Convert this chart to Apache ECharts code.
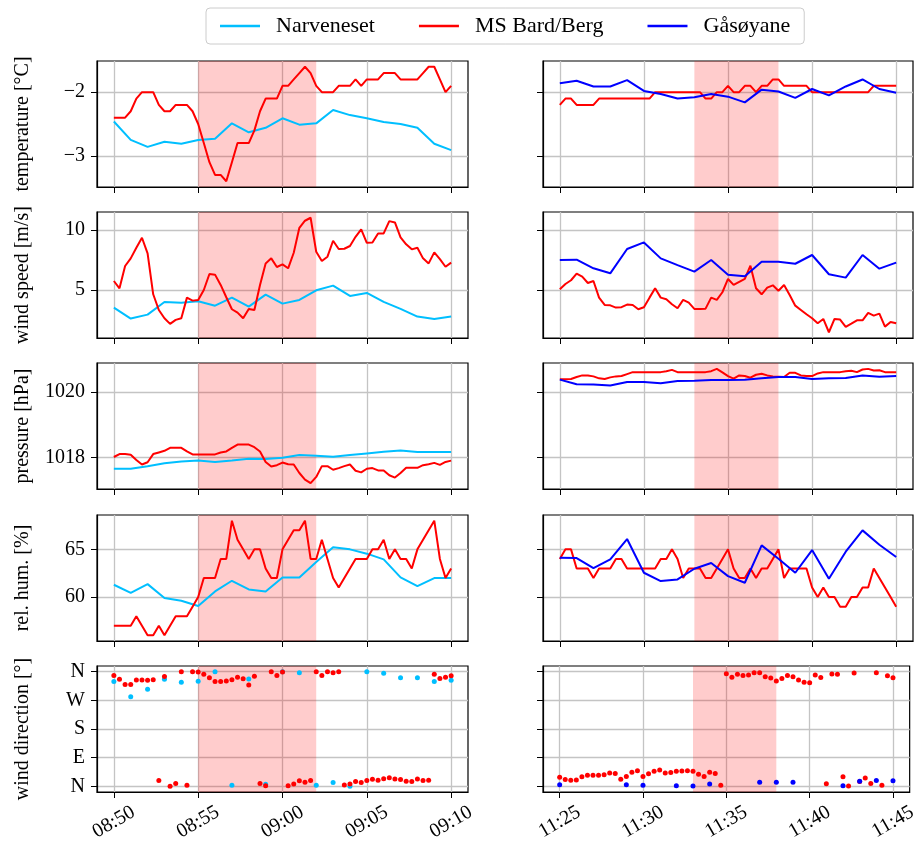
<!DOCTYPE html>
<html><head><meta charset="utf-8">
<script src="https://cdn.jsdelivr.net/npm/echarts@6/dist/echarts.min.js"></script>
<style>html,body{margin:0;padding:0;background:#fff}#c{width:920px;height:845px}</style>
</head><body><div id="c"></div>
<script>
// ---------- data ----------
const seriesNames = ['Narveneset', 'MS Bard/Berg', 'Gåsøyane'];
const leftStart = '08:50', rightStart = '11:25';   // first sample of each window
const leftRange = ['08:49', '09:11'], rightRange = ['11:24', '11:46'];
const leftTicks = ['08:50', '08:55', '09:00', '09:05', '09:10'];
const rightTicks = ['11:25', '11:30', '11:35', '11:40', '11:45'];
const leftShade = ['08:55', '09:02'], rightShade = ['11:33', '11:38'];
const stationStepSec = 60, shipStepSec = 20;

const rowNames = ['temperature [°C]', 'wind speed [m/s]', 'pressure [hPa]', 'rel. hum. [%]', 'wind direction [°]'];
const tempTicks = [-3, -2], windTicks = [5, 10], presTicks = [1018, 1020], rhTicks = [60, 65], dirTicks = [0, 90, 180, 270, 360];
const dirTickLabels = ['N', 'E', 'S', 'W', 'N'];

// temperature
const tempNarvL = [-2.46,-2.75,-2.86,-2.78,-2.81,-2.75,-2.73,-2.49,-2.63,-2.56,-2.41,-2.51,-2.49,-2.28,-2.36,-2.41,-2.47,-2.50,-2.56,-2.81,-2.91];
const tempShipL = [-2.4,-2.4,-2.4,-2.3,-2.1,-2.0,-2.0,-2.0,-2.2,-2.3, -2.3,-2.2,-2.2,-2.2,-2.3,-2.5,-2.8,-3.1,-3.3,-3.3, -3.4,-3.1,-2.8,-2.8,-2.8,-2.6,-2.3,-2.1,-2.1,-2.1, -1.9,-1.9,-1.8,-1.7,-1.6,-1.7,-1.9,-2.0,-2.0,-2.0, -1.9,-1.9,-1.9,-1.8,-1.9,-1.8,-1.8,-1.8,-1.7,-1.7, -1.7,-1.8,-1.8,-1.8,-1.8,-1.7,-1.6,-1.6,-1.8,-2.0, -1.9];
const tempGasR = [-1.86,-1.82,-1.91,-1.91,-1.81,-1.98,-2.03,-2.10,-2.08,-2.03,-2.07,-2.16,-1.96,-1.99,-2.09,-1.95,-2.05,-1.91,-1.80,-1.95,-2.01];
const tempShipR = [-2.2,-2.1,-2.1,-2.2,-2.2,-2.2,-2.2,-2.1,-2.1,-2.1, -2.1,-2.1,-2.1,-2.1,-2.1,-2.1,-2.1,-2.0,-2.0,-2.0, -2.0,-2.0,-2.0,-2.0,-2.0,-2.0,-2.1,-2.1,-2.0,-2.0, -1.9,-2.0,-2.0,-1.9,-1.9,-2.0,-1.9,-1.9,-1.8,-1.8, -1.9,-1.9,-1.9,-1.9,-1.9,-2.0,-2.0,-2.0,-2.0,-2.0, -2.0,-2.0,-2.0,-2.0,-2.0,-2.0,-1.9,-1.9,-1.9,-1.9, -1.9];
// wind speed
const windNarvL = [3.53,2.61,2.94,4.0,3.94,4.06,3.69,4.36,3.61,4.61,3.86,4.17,4.97,5.36,4.5,4.75,4.0,3.42,2.78,2.58,2.78];
const windShipL = [5.75,5.14,7.0,7.64,8.53,9.36,8.06,4.64,3.33,2.64, 2.17,2.5,2.64,4.36,4.11,4.17,5.0,6.33,6.28,5.42, 4.39,3.39,3.11,2.64,3.42,3.33,5.42,7.22,7.64,6.92, 7.14,6.81,8.11,10.19,10.78,11.03,8.19,7.42,7.78,9.11, 8.42,8.44,8.67,9.44,10.06,8.94,8.97,9.72,9.72,10.75, 10.64,9.39,8.81,8.39,8.53,7.64,7.22,8.14,7.58,6.94, 7.28];
const windGasR = [7.5,7.53,6.81,6.39,8.42,8.97,7.64,7.08,6.53,7.5,6.28,6.14,7.36,7.36,7.19,7.92,6.31,6.03,7.92,6.78,7.28];
const windShipR = [5.06,5.5,5.81,6.36,6.11,5.58,5.75,4.36,3.75,3.72, 3.53,3.56,3.78,3.75,3.39,3.56,4.36,5.14,4.36,4.22, 3.81,3.47,4.17,3.94,3.42,3.42,3.44,4.36,4.17,4.81, 5.92,5.42,5.67,5.92,7.03,5.14,4.64,5.19,5.39,4.94, 5.42,4.58,3.69,3.33,2.97,2.64,2.22,2.58,1.47,2.58, 2.53,1.92,2.19,2.47,2.47,3.08,2.86,3.03,1.94,2.33, 2.22];
// pressure
const presNarvL = [1017.65,1017.65,1017.73,1017.82,1017.87,1017.90,1017.86,1017.90,1017.96,1017.95,1017.99,1018.07,1018.05,1018.02,1018.07,1018.12,1018.17,1018.21,1018.16,1018.16,1018.16];
const presShipL = [1018.01,1018.10,1018.10,1018.08,1017.92,1017.78,1017.85,1018.10,1018.15,1018.20, 1018.29,1018.29,1018.29,1018.18,1018.09,1018.09,1018.09,1018.09,1018.09,1018.15, 1018.18,1018.29,1018.39,1018.39,1018.39,1018.31,1018.18,1017.86,1017.72,1017.76, 1017.84,1017.79,1017.78,1017.52,1017.32,1017.21,1017.40,1017.73,1017.73,1017.62, 1017.67,1017.73,1017.78,1017.59,1017.54,1017.65,1017.67,1017.60,1017.60,1017.45, 1017.38,1017.52,1017.68,1017.68,1017.68,1017.76,1017.79,1017.83,1017.77,1017.86, 1017.90];
const presGasR = [1020.38,1020.24,1020.23,1020.20,1020.31,1020.31,1020.27,1020.34,1020.35,1020.37,1020.37,1020.38,1020.42,1020.46,1020.46,1020.40,1020.42,1020.43,1020.51,1020.47,1020.49];
const presShipR = [1020.39,1020.39,1020.40,1020.46,1020.51,1020.51,1020.48,1020.42,1020.40,1020.45, 1020.48,1020.49,1020.55,1020.61,1020.61,1020.61,1020.61,1020.61,1020.61,1020.64, 1020.68,1020.61,1020.61,1020.61,1020.61,1020.61,1020.61,1020.64,1020.71,1020.60, 1020.49,1020.41,1020.51,1020.49,1020.44,1020.53,1020.56,1020.51,1020.48,1020.47, 1020.46,1020.59,1020.59,1020.51,1020.49,1020.49,1020.57,1020.61,1020.61,1020.61, 1020.61,1020.64,1020.65,1020.61,1020.69,1020.71,1020.66,1020.67,1020.61,1020.61, 1020.61];
// relative humidity
const rhNarvL = [61.29,60.45,61.36,59.90,59.62,59.06,60.59,61.71,60.80,60.59,62.06,62.06,63.67,65.21,65.0,64.55,63.95,62.06,61.15,61.99,61.99];
const rhShipL = [57,57,57,57,58,57,56,56,57,56, 57,58,58,58,59,60,62,62,62,64, 64,68,66,65,64,65,65,63,62,62, 65,66,67,67,68,64,64,66,64,62, 61,62,63,64,64,64,65,65,66,64, 65,64,64,63,65,66,67,68,64,62, 63];
const rhGasR = [64.13,64.09,63.04,63.95,66.08,62.55,61.68,61.85,62.97,63.57,62.20,61.50,65.42,64.02,62.55,64.93,61.92,64.76,66.99,65.49,64.2];
const rhShipR = [64,65,65,63,63,63,62,63,63,63, 64,64,63,63,63,63,63,63,64,64, 65,64,62,63,63,63,62,62,63,64, 65,63,62,62,63,62,63,63,64,65, 62,63,63,63,63,61,60,61,60,60, 59,59,60,60,61,61,63,62,61,60, 59];
// wind direction (degrees)
const dirNarvL = [329,281,305,336,327,330,360,3,337,6,360,357,3,12,0,360,355,341,341,329,333];
const dirShipL = [348,336,320,320,334,334,333,335,18,345, 0,9,360,3,360,359,352,341,329,329, 331,335,343,338,318,346,9,2,360,348, 359,2,7,17,13,18,360,348,360,357, 360,4,7,15,12,18,22,19,24,27, 23,21,16,15,23,18,19,352,339,343, 347];
const dirGasR = [5,null,null,null,5,3,null,2,1,7,null,null,13,13,13,null,null,2,16,18,17];
const dirShipR = [28,21,19,20,30,35,35,35,36,42, 40,22,31,44,49,31,39,47,51,42, 43,47,48,49,47,38,31,44,40,3, 354,343,352,348,350,357,357,344,340,331, 339,348,344,334,327,325,350,342,8,353, 352,30,1,356,15,26,9,357,3,347, 341];

// ---------- chart ----------
const FONT = 'Liberation Serif';
const COL = {'Narveneset': '#00bfff', 'MS Bard/Berg': '#ff0000', 'Gåsøyane': '#0000ff'};
const toMin = s => { const [h, m] = s.split(':').map(Number); return h * 60 + m; };
const fmtMin = v => { const h = Math.floor(v / 60 + 1e-9), m = Math.round(v - h * 60); return String(h).padStart(2, '0') + ':' + String(m).padStart(2, '0'); };
const pairs = (start, stepSec, vals) => vals.map((v, i) => [toMin(start) + i * stepSec / 60, v]);

const rows = [
  {name: rowNames[0], min: -3.49, max: -1.51, ticks: tempTicks, fmt: v => String(v).replace('-', '\u2212'), L: [tempNarvL, tempShipL], R: [tempGasR, tempShipR]},
  {name: rowNames[1], min: 0.99, max: 11.51, ticks: windTicks, fmt: v => String(v), L: [windNarvL, windShipL], R: [windGasR, windShipR]},
  {name: rowNames[2], min: 1017.03, max: 1020.89, ticks: presTicks, fmt: v => String(v), L: [presNarvL, presShipL], R: [presGasR, presShipR]},
  {name: rowNames[3], min: 55.4, max: 68.6, ticks: rhTicks, fmt: v => String(v), L: [rhNarvL, rhShipL], R: [rhGasR, rhShipR]},
  {name: rowNames[4], min: -18, max: 378, ticks: dirTicks, fmt: v => dirTickLabels[dirTicks.indexOf(v)], L: [dirNarvL, dirShipL], R: [dirGasR, dirShipR], scatter: true}
];

const rowTops = [61, 212, 363, 515, 666], rowH = 126;
const colLeft = [97, 543], colW = [371, 370];
const grids = [], xAxes = [], yAxes = [], series = [];
const axisTxt = {fontFamily: FONT, fontSize: 20, color: '#000'};

rows.forEach((row, r) => {
  [0, 1].forEach(c => {
    const g = r * 2 + c;
    grids.push({left: colLeft[c], top: rowTops[r], width: colW[c], height: rowH, show: true, borderColor: '#000', borderWidth: 1.2, backgroundColor: 'transparent'});
    const rng = c === 0 ? leftRange : rightRange;
    const xt = (c === 0 ? leftTicks : rightTicks).map(toMin);
    xAxes.push({
      type: 'value', gridIndex: g, min: toMin(rng[0]), max: toMin(rng[1]),
      axisLine: {show: true, onZero: false, lineStyle: {color: '#000', width: 1.2}},
      axisTick: {show: true, length: 6, customValues: xt, lineStyle: {color: '#000', width: 1}},
      axisLabel: {show: r === 4, customValues: xt, formatter: fmtMin, rotate: 30, align: 'center', verticalAlign: 'middle', margin: 30, ...axisTxt},
      splitLine: {show: true, lineStyle: {color: '#c4c4c4', width: 1.3}}
    });
    yAxes.push({
      type: 'value', gridIndex: g, min: row.min, max: row.max,
      name: c === 0 ? row.name : '', nameLocation: 'middle', nameGap: 64, nameTextStyle: {fontFamily: FONT, fontSize: 20, color: '#000'},
      axisLine: {show: true, onZero: false, lineStyle: {color: '#000', width: 1.2}},
      axisTick: {show: true, length: 6, customValues: row.ticks, lineStyle: {color: '#000', width: 1}},
      axisLabel: {show: c === 0, customValues: row.ticks, formatter: row.fmt, margin: 12, ...axisTxt},
      splitLine: {show: true, lineStyle: {color: '#c4c4c4', width: 1.3}}
    });
    const sh = c === 0 ? leftShade : rightShade;
    series.push({type: 'line', xAxisIndex: g, yAxisIndex: g, data: [], silent: true, z: 1,
      markArea: {silent: true, itemStyle: {color: 'rgba(255,0,0,0.2)'}, data: [[{xAxis: toMin(sh[0])}, {xAxis: toMin(sh[1])}]]}});
    const start = c === 0 ? leftStart : rightStart;
    const stationName = c === 0 ? seriesNames[0] : seriesNames[2];
    const vals = c === 0 ? row.L : row.R;
    const defs = [[stationName, vals[0], stationStepSec], [seriesNames[1], vals[1], shipStepSec]];
    if (c === 1) defs.reverse();  // station (blue) drawn above ship in right panels
    defs.forEach(([nm, v, step], k) => {
      const base = {name: nm, xAxisIndex: g, yAxisIndex: g, data: pairs(start, step, v), z: 3 + k, color: COL[nm], animation: false};
      if (row.scatter) series.push({...base, type: 'scatter', symbolSize: 5, itemStyle: {color: COL[nm], opacity: 1}});
      else series.push({...base, type: 'line', showSymbol: false, lineStyle: {width: 2, color: COL[nm]}, connectNulls: false});
    });
  });
});

const chart = echarts.init(document.getElementById('c'), null, {renderer: 'canvas'});
chart.setOption({
  animation: false,
  backgroundColor: '#fff',
  legend: {
    data: seriesNames, left: 206, top: 8, icon: 'rect', itemWidth: 40, itemHeight: 2.5, itemGap: 44,
    padding: [7, 14], borderColor: '#cccccc', borderWidth: 1, borderRadius: 4, backgroundColor: '#fff',
    textStyle: {fontFamily: FONT, fontSize: 22, color: '#000', padding: [0, 0, 0, 11]}
  },
  grid: grids, xAxis: xAxes, yAxis: yAxes, series: series
});
</script></body></html>
